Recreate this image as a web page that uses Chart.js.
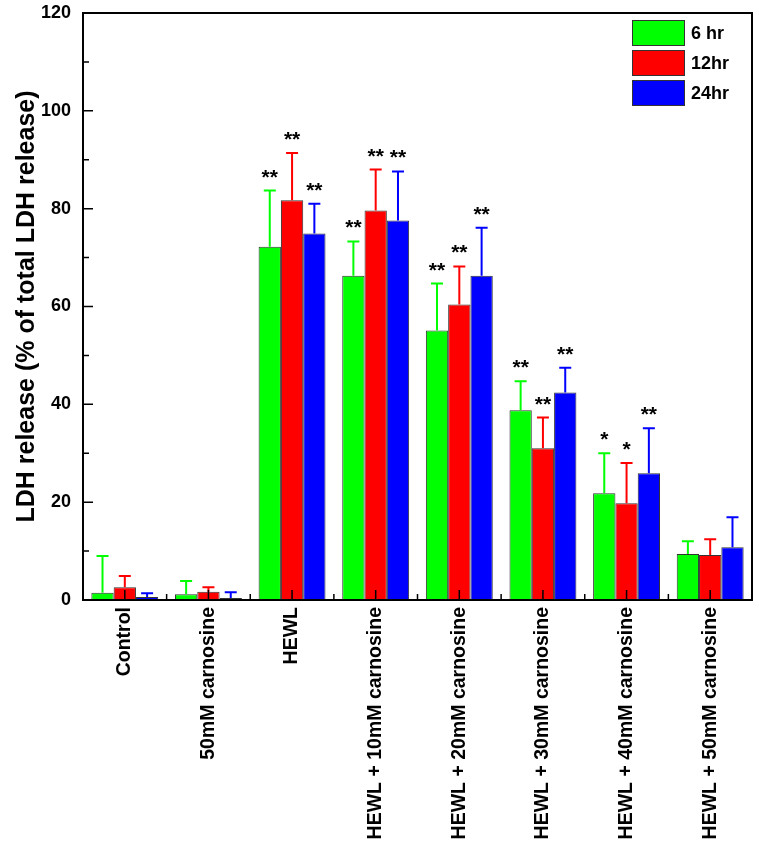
<!DOCTYPE html>
<html>
<head>
<meta charset="utf-8">
<script src="https://cdn.jsdelivr.net/npm/chart.js@4/dist/chart.umd.min.js"></script>
<style>
  html, body { margin: 0; padding: 0; background: #ffffff; }
  #wrap { width: 759px; height: 847px; }
</style>
</head>
<body>
<div id="wrap"><canvas id="c" width="759" height="847"></canvas></div>
<script>
// ---- data ----
const categories = [
  "Control",
  "50mM carnosine",
  "HEWL",
  "HEWL + 10mM carnosine",
  "HEWL + 20mM carnosine",
  "HEWL + 30mM carnosine",
  "HEWL + 40mM carnosine",
  "HEWL + 50mM carnosine"
];
const seriesNames = ["6 hr", "12hr", "24hr"];
const values6  = [1.5, 1.2, 72.2, 66.3, 55.1, 38.8, 21.8, 9.4];
const values12 = [2.6, 1.7, 81.7, 79.6, 60.4, 31.0, 19.8, 9.2];
const values24 = [0.6, 0.4, 74.9, 77.6, 66.3, 42.4, 25.9, 10.8];
const err6  = [7.5, 2.7, 11.5, 7.0, 9.6, 5.9, 8.2, 2.6];
const err12 = [2.3, 0.9, 9.7, 8.4, 7.8, 6.3, 8.2, 3.2];
const err24 = [0.8, 1.2, 6.1, 10.0, 9.8, 5.1, 9.2, 6.1];
const sig6  = ["", "", "**", "**", "**", "**", "*", ""];
const sig12 = ["", "", "**", "**", "**", "**", "*", ""];
const sig24 = ["", "", "**", "**", "**", "**", "**", ""];
const yTickValues = [0, 20, 40, 60, 80, 100, 120];
const yTitle = "LDH release (% of total LDH release)";

const colors = ["#00ff00", "#ff0000", "#0000ff"];
const FONT = "'Liberation Sans', Arial, Helvetica, sans-serif";

const allValues = [values6, values12, values24];
const allErrors = [err6, err12, err24];
const allSig = [sig6, sig12, sig24];

const overlay = {
  id: 'overlay',
  afterDatasetsDraw(chart) {
    const ctx = chart.ctx;
    const xs = chart.scales.x, ys = chart.scales.y;
    const area = chart.chartArea;
    ctx.save();
    // error bars + significance stars
    chart.data.datasets.forEach((ds, i) => {
      const meta = chart.getDatasetMeta(i);
      meta.data.forEach((el, j) => {
        const v = ds.data[j];
        const top = ys.getPixelForValue(v + allErrors[i][j]);
        ctx.strokeStyle = colors[i];
        ctx.lineWidth = 2;
        ctx.beginPath();
        ctx.moveTo(el.x, el.y);
        ctx.lineTo(el.x, top);
        ctx.moveTo(el.x - 6, top);
        ctx.lineTo(el.x + 6, top);
        ctx.stroke();
        const s = allSig[i][j];
        if (s) {
          ctx.fillStyle = "#000";
          ctx.font = "bold 21px " + FONT;
          ctx.textAlign = "center";
          ctx.textBaseline = "alphabetic";
          ctx.fillText(s, el.x, top - 7);
        }
      });
    });
    // frame
    ctx.strokeStyle = "#000";
    ctx.lineWidth = 2;
    ctx.strokeRect(area.left, area.top, area.right - area.left, area.bottom - area.top);
    // y ticks (inward)
    ctx.lineWidth = 1.5;
    ctx.beginPath();
    const yt = ys.ticks.map(t => t.value);
    yt.forEach((v, k) => {
      const p = ys.getPixelForValue(v);
      ctx.moveTo(area.left, p); ctx.lineTo(area.left + 10, p);
      if (k < yt.length - 1) {
        const pm = ys.getPixelForValue((v + yt[k + 1]) / 2);
        ctx.moveTo(area.left, pm); ctx.lineTo(area.left + 6, pm);
      }
    });
    // x ticks (inward)
    const n = chart.data.labels.length;
    for (let k = 0; k < n; k++) {
      const p = xs.getPixelForTick(k);
      ctx.moveTo(p, area.bottom); ctx.lineTo(p, area.bottom - 10);
      if (k < n - 1) {
        const pm = (p + xs.getPixelForTick(k + 1)) / 2;
        ctx.moveTo(pm, area.bottom); ctx.lineTo(pm, area.bottom - 6);
      }
    }
    ctx.stroke();
    ctx.restore();
  },
  afterDraw(chart) {
    const ctx = chart.ctx;
    ctx.save();
    chart.data.datasets.forEach((ds, i) => {
      const bx = 632, by = 20 + i * 30, bw = 53, bh = 26;
      ctx.fillStyle = ds.backgroundColor;
      ctx.fillRect(bx, by, bw, bh);
      ctx.strokeStyle = "#333";
      ctx.lineWidth = 1;
      ctx.strokeRect(bx + 0.5, by + 0.5, bw - 1, bh - 1);
      ctx.fillStyle = "#000";
      ctx.font = "bold 18px " + FONT;
      ctx.textAlign = "left";
      ctx.textBaseline = "middle";
      ctx.fillText(ds.label, 691, by + bh / 2 + 1);
    });
    ctx.restore();
  }
};

new Chart(document.getElementById('c'), {
  type: 'bar',
  data: {
    labels: categories,
    datasets: seriesNames.map((name, i) => ({
      label: name,
      data: allValues[i],
      backgroundColor: colors[i],
      borderColor: "#333",
      borderWidth: 1,
      categoryPercentage: 0.8,
      barPercentage: 1.0
    }))
  },
  options: {
    responsive: false,
    devicePixelRatio: 1,
    animation: false,
    layout: { padding: { left: 0, right: 7, top: 13, bottom: 0 } },
    plugins: { legend: { display: false }, tooltip: { enabled: false } },
    scales: {
      x: {
        grid: { display: false, drawTicks: false },
        border: { display: false },
        ticks: {
          color: "#000",
          font: { family: FONT, size: 19.5, weight: 'bold' },
          minRotation: 90, maxRotation: 90,
          autoSkip: false,
          padding: 7
        },
        afterFit(scale) {
          scale.height = 247;
          scale.paddingLeft = 0; scale.paddingRight = 0;
          scale.paddingTop = 0; scale.paddingBottom = 0;
        }
      },
      y: {
        min: 0, max: 120,
        afterBuildTicks(scale) { scale.ticks = yTickValues.map(v => ({ value: v })); },
        grid: { display: false, drawTicks: false },
        border: { display: false },
        ticks: {
          color: "#000",
          font: { family: FONT, size: 18, weight: 'bold' },
          padding: 12
        },
        title: {
          display: true,
          text: yTitle,
          color: "#000",
          font: { family: FONT, size: 25, weight: 'bold' },
          padding: { top: 12, bottom: 0 }
        },
        afterFit(scale) {
          scale.width = 83;
          scale.paddingTop = 0; scale.paddingBottom = 0;
          scale.paddingLeft = 0; scale.paddingRight = 0;
        }
      }
    }
  },
  plugins: [overlay]
});
</script>
</body>
</html>
